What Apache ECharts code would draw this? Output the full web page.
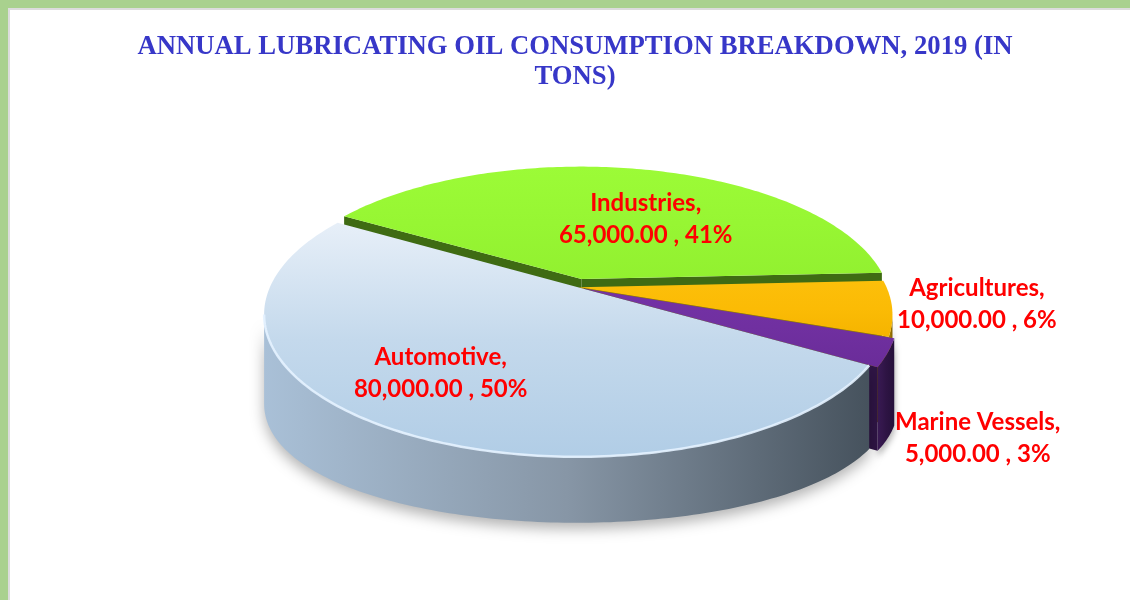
<!DOCTYPE html>
<html>
<head>
<meta charset="utf-8">
<script src="https://cdn.jsdelivr.net/npm/echarts@6/dist/echarts.min.js"></script>
<style>
  body { margin: 0; background: #fff; }
  #main { position: absolute; left: 0; top: 0; width: 1130px; height: 600px; }
  .edge { position: absolute; background: #a9d18e; z-index: 5; }
  .line { position: absolute; background: #dcdcdc; z-index: 5; }
</style>
</head>
<body>
<div id="main"></div>
<div class="edge" style="left:0;top:0;width:1130px;height:8px"></div>
<div class="edge" style="left:0;top:0;width:8px;height:600px"></div>
<div class="line" style="left:8px;top:8px;width:1122px;height:2px"></div>
<div class="line" style="left:8px;top:8px;width:2px;height:592px"></div>
<script>
// data
let categories = ['Automotive', 'Industries', 'Agricultures', 'Marine Vessels'];
let tons = [80000, 65000, 10000, 5000];
let titleText = 'ANNUAL LUBRICATING OIL CONSUMPTION BREAKDOWN, 2019 (IN\nTONS)';

// look of the 3d pie (excel style)
let topColors = [
  ['#e7eff8', '#c4d9ec', '#b1cde6'],
  ['#9cfb37', '#97f633', '#92f030'],
  ['#fcbf0a', '#fbbb05', '#f5b400'],
  ['#7432a6', '#7030a0', '#6a2c99']
];
let sideColors = [
  ['#a9c0d7', '#8796a6', '#46525d'],
  ['#4a7a1a', '#3f6b13', '#33590e'],
  ['#b58900', '#9a7400', '#7f5f00'],
  ['#3a1a55', '#2e1444', '#25103a']
];
let explode = [0, 0.06, 0.008, 0.025];
let labelR = [0.687, 0.598, 1.278, 1.41];
let labelShift = [-4.2, -10.3, 3.1, -14.9];
let drawOrder = [4, 1, 2, 3];

let app = {};
app.CX = 577; app.CY = 287;
app.RX = 307; app.RY = 137;
app.K = 0.193;

let total = tons.reduce((a, b) => a + b, 0);
// slices go clockwise from -31deg
let startAngle = -31;
let ranges = [];
let acc = startAngle;
for (let i = 0; i < tons.length; i++) {
  let sweep = tons[i] / total * 360;
  let hi = (i == 0) ? acc + 360 : acc;
  ranges.push([hi - sweep, hi]);
  acc = hi - sweep;
}

// wall height seen on screen, a bit taller at the sides
app.drop = function(deg) {
  let c = Math.cos(deg * Math.PI / 180);
  return 66 + 24 * c * c;
};
app.proj = function(u, v, drop) {
  let w = 1 + app.K * v;
  return [app.CX + app.RX * u / w, app.CY - app.RY * v / w + drop];
};
app.pt = function(r, deg, i, low) {
  let a = deg * Math.PI / 180;
  let m = (ranges[i][0] + ranges[i][1]) / 2 * Math.PI / 180;
  let u = r * Math.cos(a) + explode[i] * Math.cos(m);
  let v = r * Math.sin(a) + explode[i] * Math.sin(m);
  return app.proj(u, v, low ? app.drop(deg) : 0);
};
app.arc = function(i, a0, a1, low) {
  let pts = [];
  let n = Math.max(2, Math.ceil(Math.abs(a1 - a0)));
  for (let s = 0; s <= n; s++) {
    pts.push(app.pt(1, a0 + (a1 - a0) * s / n, i, low));
  }
  return pts;
};
function grad(cols, vertical) {
  return {
    type: 'linear', x: 0, y: 0, x2: vertical ? 0 : 1, y2: vertical ? 1 : 0,
    colorStops: [{offset: 0, color: cols[0]}, {offset: 0.5, color: cols[1]}, {offset: 1, color: cols[2]}]
  };
}
function fmt(v) {
  return v.toLocaleString('en-US', {minimumFractionDigits: 2, maximumFractionDigits: 2});
}

// the rim is seen between the two silhouette points
let edgeDeg = Math.asin(app.K) * 180 / Math.PI;

function renderItem(params, api) {
  let i = params.dataIndex;
  let lo = ranges[i][0], hi = ranges[i][1];
  let base = drawOrder[i] * 10;
  let kids = [];

  // outer wall
  let spans = [[180 + edgeDeg, 360 - edgeDeg], [-180 + edgeDeg, -edgeDeg]];
  spans.forEach(function(s) {
    let a0 = Math.max(lo, s[0]), a1 = Math.min(hi, s[1]);
    if (a1 > a0) {
      let topPts = app.arc(i, a0, a1, false);
      let botPts = app.arc(i, a0, a1, true).reverse();
      kids.push({
        type: 'polygon', z2: base,
        shape: { points: topPts.concat(botPts) },
        style: {
          fill: grad(sideColors[i], false),
          shadowBlur: i == 0 ? 14 : 6, shadowColor: 'rgba(0,0,0,0.3)', shadowOffsetY: 6
        }
      });
      if (i == 0) {
        kids.push({
          type: 'polyline', z2: base + 6,
          shape: { points: topPts },
          style: { stroke: 'rgba(228,242,255,0.9)', lineWidth: 2.5, fill: null }
        });
      }
    }
  });

  // cut faces that turn to the viewer
  let faces = [];
  if (Math.cos(lo * Math.PI / 180) > 0) faces.push(lo);
  if (Math.cos(hi * Math.PI / 180) < 0) faces.push(hi);
  faces.forEach(function(a) {
    kids.push({
      type: 'polygon', z2: base + 1,
      shape: { points: [app.pt(0, a, i, false), app.pt(1, a, i, false), app.pt(1, a, i, true), app.pt(0, a, i, true)] },
      style: { fill: sideColors[i][1] }
    });
  });

  // top face
  kids.push({
    type: 'polygon', z2: base + 5,
    shape: { points: [app.pt(0, lo, i, false)].concat(app.arc(i, lo, hi, false)) },
    style: { fill: grad(topColors[i], true) }
  });

  // label
  let mid = (lo + hi) / 2 + labelShift[i];
  let a = mid * Math.PI / 180;
  let lp = app.proj(labelR[i] * Math.cos(a), labelR[i] * Math.sin(a), 0);
  let pct = Math.round(tons[i] / total * 100);
  kids.push({
    type: 'text', z2: 100, x: lp[0], y: lp[1],
    style: {
      text: categories[i] + ',\n' + fmt(api.value(1)) + ' , ' + pct + '%',
      fill: '#ff0000', font: 'bold 24px Lato', align: 'center', verticalAlign: 'middle', lineHeight: 32
    }
  });

  return { type: 'group', children: kids };
}

var myChart = echarts.init(document.getElementById('main'));
var option = {
  backgroundColor: '#ffffff',
  animation: false,
  graphic: [{
    type: 'text',
    x: 575, y: 32,
    style: {
      text: titleText,
      font: 'bold 26.7px "Liberation Serif"',
      fill: '#3737c8', align: 'center', verticalAlign: 'top', lineHeight: 30
    }
  }],
  series: [{
    type: 'custom',
    coordinateSystem: 'none',
    renderItem: renderItem,
    data: tons.map((v, i) => [i, v])
  }]
};
myChart.setOption(option);
</script>
</body>
</html>
